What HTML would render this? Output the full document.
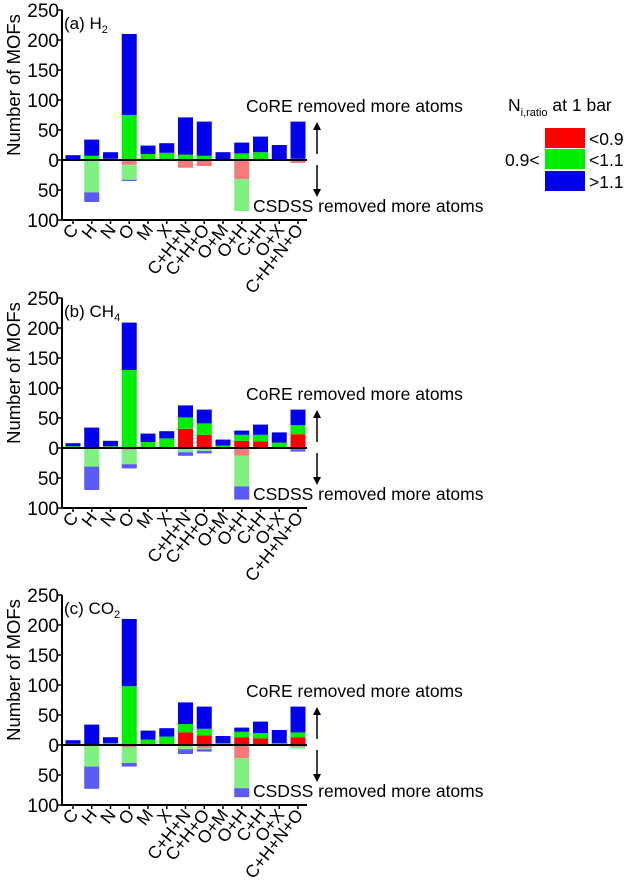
<!DOCTYPE html>
<html><head><meta charset="utf-8"><style>
body{margin:0;background:#fff}
svg{display:block;font-family:"Liberation Sans",Arial,sans-serif}
</style></head><body>
<svg id="chart" width="626" height="895" xmlns="http://www.w3.org/2000/svg"></svg>
<script>
const categories=["C","H","N","O","M","X","C+H+N","C+H+O","O+M","O+H","C+H","O+X","C+H+N+O"];
const panelTitles=["(a) H","(b) CH","(c) CO"];
const panelSubs=["2","4","2"];
const yTicks=[250,200,150,100,50,0,50,100];
const yTickVals=[250,200,150,100,50,0,-50,-100];
const aPosRed=[0,0,0,0,0,0,0,0,0,0,0,0,0];
const aPosGreen=[0,7,2,75,10,12,9,7,0,11,13,0,2];
const aPosBlue=[8,27,11,135,14,16,62,57,13,18,26,25,62];
const aNegRed=[0,0,0,8,0,0,13,10,0,32,0,0,5];
const aNegGreen=[0,54,0,25,0,0,0,0,0,53,0,0,0];
const aNegBlue=[0,16,0,2,0,0,0,0,0,0,0,0,0];
const bPosRed=[0,0,0,0,0,0,32,22,0,12,11,0,23];
const bPosGreen=[3,0,3,130,10,16,19,19,4,10,11,9,15];
const bPosBlue=[5,34,9,79,14,12,20,23,10,7,17,17,26];
const bNegRed=[0,0,0,3,0,0,0,0,0,13,0,0,2];
const bNegGreen=[0,31,0,24,0,0,7,5,0,51,0,0,0];
const bNegBlue=[0,39,0,7,0,0,6,4,0,22,0,0,4];
const cPosRed=[0,0,0,0,0,0,21,16,0,13,11,0,13];
const cPosGreen=[2,0,3,98,9,14,14,11,3,9,9,3,8];
const cPosBlue=[6,34,10,112,15,14,36,37,12,7,19,22,43];
const cNegRed=[0,0,0,4,0,0,0,5,0,22,0,0,3];
const cNegGreen=[0,36,0,26,0,0,7,2,0,50,0,0,3];
const cNegBlue=[0,37,0,6,0,0,8,4,0,15,0,0,0];

const svg=document.getElementById('chart');
const NS='http://www.w3.org/2000/svg';
function mk(tag,attrs,parent,txt){const e=document.createElementNS(NS,tag);for(const k in attrs)e.setAttribute(k,attrs[k]);if(txt!==undefined)e.textContent=txt;(parent||svg).appendChild(e);return e;}
const panels=[
 {top:10,pos:[aPosRed,aPosGreen,aPosBlue],neg:[aNegRed,aNegGreen,aNegBlue]},
 {top:298,pos:[bPosRed,bPosGreen,bPosBlue],neg:[bNegRed,bNegGreen,bNegBlue]},
 {top:595,pos:[cPosRed,cPosGreen,cPosBlue],neg:[cNegRed,cNegGreen,cNegBlue]}];
const posCols=['#ff0000','#00ee00','#0000ee'];
const negCols=['#f57a7a','#80f080','#5a5af5'];
const segNames=['red','green','blue'];
const x0=62,x1=307,k=0.6;
function xc(i){return 73+i*18.75;}
panels.forEach((p,pi)=>{
 const g=mk('g',{});
 
 
 const zero=p.top+250*k;
 const y=v=>zero-v*k;
 categories.forEach((c,i)=>{
  let acc=0;
  for(let s=0;s<3;s++){const v=p.pos[s][i];if(v>0){const r=mk('rect',{x:xc(i)-7.5,y:y(acc+v),width:15,height:v*k,fill:posCols[s]},g);
   
   }acc+=v;}
  acc=0;
  for(let s=0;s<3;s++){const v=p.neg[s][i];if(v>0){const r=mk('rect',{x:xc(i)-7.5,y:y(-acc),width:15,height:v*k,fill:negCols[s]},g);
   
   }acc+=v;}
 });
 const zl=mk('line',{x1:x0,x2:x1,y1:zero,y2:zero,stroke:'#000','stroke-width':2},g);
 
 
 const ya=mk('line',{x1:x0,x2:x0,y1:y(250),y2:y(-100)+1,stroke:'#000','stroke-width':2},g);
 
 
 const xa=mk('line',{x1:x0,x2:x1,y1:y(-100),y2:y(-100),stroke:'#000','stroke-width':2},g);
 
 
 yTickVals.forEach((v,ti)=>{
  mk('line',{x1:x0-4,x2:x0,y1:y(v),y2:y(v),stroke:'#000','stroke-width':1.5},g);
  const t=mk('text',{x:x0-3,y:y(v)+7,'font-size':19,'text-anchor':'end'},g,yTicks[ti]);
  
  
 });
 categories.forEach((c,i)=>{
  mk('line',{x1:xc(i),x2:xc(i),y1:y(-100),y2:y(-100)+4,stroke:'#000','stroke-width':1.5},g);
  const t=mk('text',{x:xc(i)+6,y:y(-100)+10,'font-size':17.5,'text-anchor':'end',transform:`rotate(-52 ${xc(i)+6} ${y(-100)+10})`},g,c);
  
  
 });
 const yt=mk('text',{x:0,y:0,'font-size':18.5,'text-anchor':'middle',transform:`translate(20 ${zero-75}) rotate(-90)`},g,'Number of MOFs');
 
 
 const tt=mk('text',{x:64,y:p.top+19,'font-size':17},g,panelTitles[pi]);
 mk('tspan',{'font-size':11,dy:4},tt,panelSubs[pi]);
 
 
 const t1=mk('text',{x:246,y:zero-48,'font-size':17.5},g,'CoRE removed more atoms');
 
 
 const t2=mk('text',{x:253,y:zero+52,'font-size':17.5},g,'CSDSS removed more atoms');
 
 
 const ar=mk('g',{},g);
 
 
 mk('line',{x1:317,x2:317,y1:zero-34,y2:zero-6,stroke:'#000','stroke-width':1.5},ar);
 mk('path',{d:`M313 ${zero-30} L317 ${zero-38} L321 ${zero-30} Z`,fill:'#000'},ar);
 mk('line',{x1:317,x2:317,y1:zero+5,y2:zero+33,stroke:'#000','stroke-width':1.5},ar);
 mk('path',{d:`M313 ${zero+29} L317 ${zero+37} L321 ${zero+29} Z`,fill:'#000'},ar);
});
const lg=mk('g',{});


const lt=mk('text',{x:508,y:111,'font-size':17.5},lg,'N');
mk('tspan',{'font-size':11,dy:5},lt,'i,ratio');
mk('tspan',{'font-size':17.5,dy:-5},lt,' at 1 bar');
const legLabels=['<0.9','<1.1','>1.1'];
const legY=[128,149,171];
legLabels.forEach((l,i)=>{
 const r=mk('rect',{x:545,y:legY[i],width:40,height:20,fill:posCols[i]},lg);
 
 
 const t=mk('text',{x:589,y:legY[i]+17,'font-size':17.5},lg,l);
 
 
});
const l2=mk('text',{x:505,y:166,'font-size':17.5},lg,'0.9<');


</script>
</body></html>
